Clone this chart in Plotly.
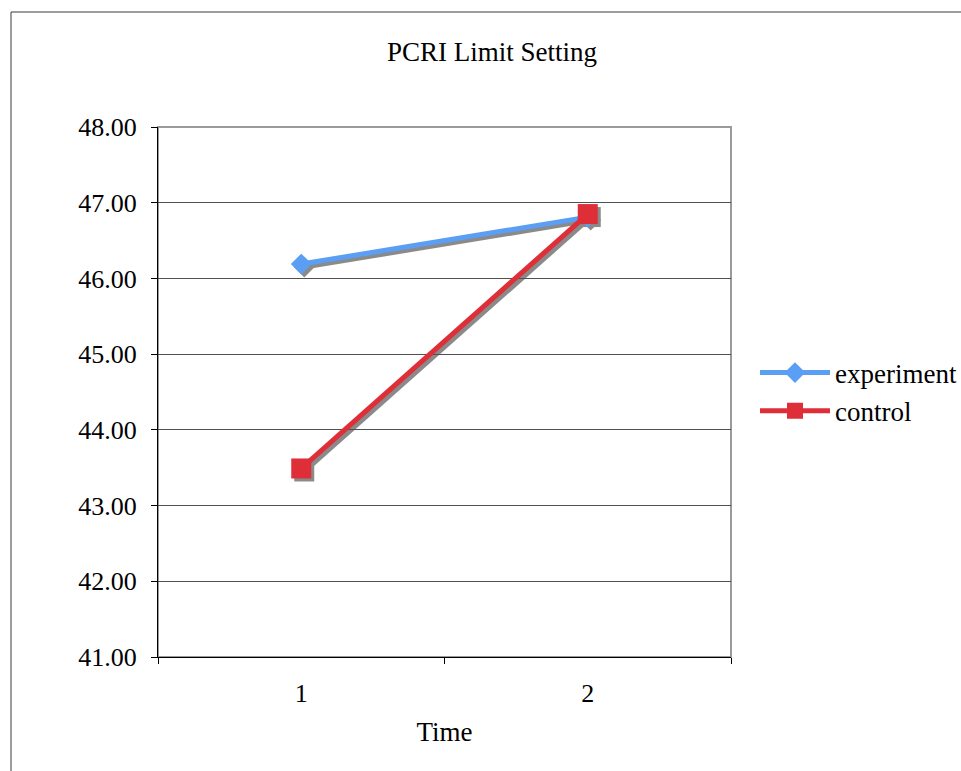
import plotly.graph_objects as go

# ---- data ----
categories = ["1", "2"]
experiment = [46.19, 46.81]
control = [43.49, 46.85]
series_names = ["experiment", "control"]
y_tick_vals = [41, 42, 43, 44, 45, 46, 47, 48]

# ---- geometry (pixels) ----
W, H = 961, 771
L, R, T, B = 158, 227, 127, 111
PW, PH = W - L - R, H - T - B
SH = 3  # shadow offset in px

def px_x(px):
    return (px - L) / PW

def px_y(py):
    return (H - B - py) / PH

FONT = "Liberation Serif"
BLUE = "#5B9FF5"
RED = "#DE2F39"
GRAY = "#8a8a8a"

fig = go.Figure()

# shadow traces (offset subplot xy)
fig.add_trace(go.Scatter(x=categories, y=experiment, mode="lines+markers",
                         line=dict(color=GRAY, width=5),
                         marker=dict(symbol="diamond", size=16, color=GRAY),
                         xaxis="x", yaxis="y", showlegend=False, hoverinfo="skip"))
fig.add_trace(go.Scatter(x=categories, y=control, mode="lines+markers",
                         line=dict(color=GRAY, width=5),
                         marker=dict(symbol="square", size=20, color=GRAY),
                         xaxis="x", yaxis="y", showlegend=False, hoverinfo="skip"))

# main traces
fig.add_trace(go.Scatter(x=categories, y=experiment, mode="lines+markers",
                         name=series_names[0],
                         line=dict(color=BLUE, width=5),
                         marker=dict(symbol="diamond", size=16, color=BLUE),
                         xaxis="x2", yaxis="y2"))
fig.add_trace(go.Scatter(x=categories, y=control, mode="lines+markers",
                         name=series_names[1],
                         line=dict(color=RED, width=5),
                         marker=dict(symbol="square", size=20, color=RED),
                         xaxis="x2", yaxis="y2"))

yrange = [41, 48]

fig.update_layout(
    width=W, height=H,
    margin=dict(l=L, r=R, t=T, b=B, pad=0, autoexpand=False),
    paper_bgcolor="white",
    plot_bgcolor="rgba(0,0,0,0)",
    font=dict(family=FONT, size=26, color="black"),
    title=dict(text="PCRI Limit Setting", x=492 / W, xanchor="center",
               y=1 - 52 / H, yanchor="middle", yref="container",
               font=dict(family=FONT, size=27, color="black")),
    # shadow axes
    xaxis=dict(type="category", domain=[SH / PW, 1], range=[-0.5, 1.5],
               visible=False, anchor="y"),
    yaxis=dict(domain=[0, 1 - SH / PH], range=yrange, visible=False, anchor="x"),
    # main axes
    xaxis2=dict(type="category", domain=[0, 1 - SH / PW], range=[-0.5, 1.5],
                anchor="y2", tickson="boundaries", ticks="outside", ticklen=6,
                tickcolor="black", showline=True, linecolor="black", linewidth=1,
                showgrid=False, zeroline=False, ticklabelstandoff=13,
                title=dict(text="Time", standoff=14,
                           font=dict(family=FONT, size=27, color="black")),
                tickfont=dict(family=FONT, size=26, color="black")),
    yaxis2=dict(domain=[SH / PH, 1], range=yrange, anchor="x2",
                tickvals=y_tick_vals, tickformat=".2f", ticks="outside",
                ticklen=6, tickcolor="black", showline=True, linecolor="black",
                linewidth=1, showgrid=True, gridcolor="#505050", gridwidth=1,
                zeroline=False, ticklabelstandoff=9,
                tickfont=dict(family=FONT, size=26, color="black")),
    legend=dict(x=px_x(755), y=px_y(392), xanchor="left", yanchor="middle",
                font=dict(family=FONT, size=27, color="black"),
                bgcolor="rgba(0,0,0,0)", itemsizing="trace", tracegroupgap=0,
                itemwidth=70),
    shapes=[
        # outer chart border
        dict(type="rect", xref="paper", yref="paper",
             x0=px_x(11), x1=px_x(990), y0=px_y(800), y1=px_y(12),
             line=dict(color="#3a3a3a", width=1), layer="below"),
        # plot area border (gray top/right)
        dict(type="rect", xref="x2 domain", yref="y2 domain",
             x0=0, x1=1, y0=0, y1=1,
             line=dict(color="#9a9a9a", width=2), layer="below"),
    ],
)

fig.write_html("out.html")
